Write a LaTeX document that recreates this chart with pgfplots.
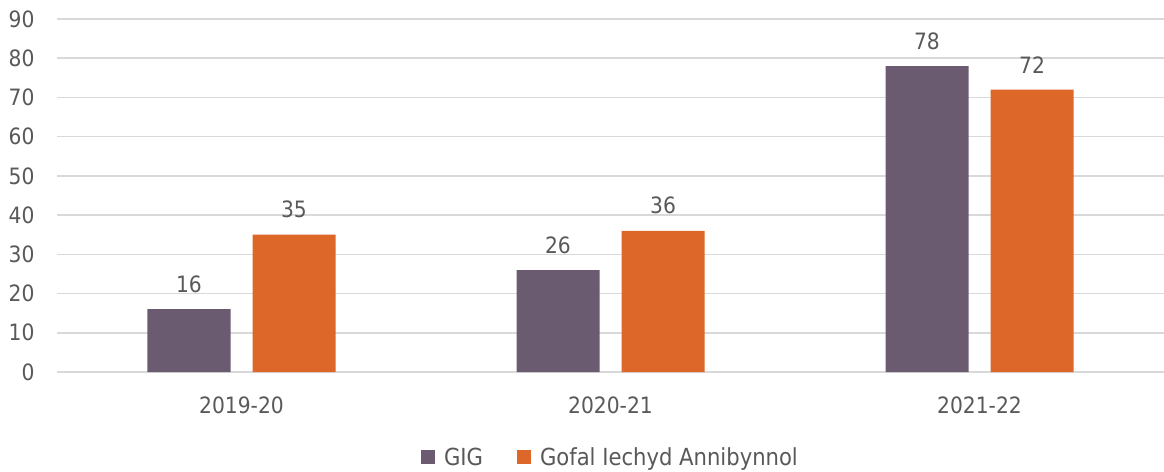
\documentclass[border=0pt]{standalone}
\usepackage{pgfplots}
\pgfplotsset{compat=1.18}
\usepackage{fontspec}
\setmainfont{DejaVu Sans Condensed}
\definecolor{gig}{HTML}{6B5B70}
\definecolor{gofal}{HTML}{DD6629}
\definecolor{txt}{HTML}{595959}
\definecolor{gridc}{HTML}{D9D9D9}
\begin{document}
\begin{tikzpicture}
\begin{axis}[
  name=ax,
  scale only axis,
  width=1107pt, height=353pt,
  xmin=-0.5, xmax=2.5, ymin=0, ymax=90,
  ytick={0,10,...,90},
  xtick={0,1,2},
  xticklabels={2019-20,2020-21,2021-22},
  axis line style={draw=none},
  major tick length=0pt,
  xmajorgrids=false,
  ymajorgrids, grid style={draw=gridc, line width=1.5pt},
  tick style={draw=none},
  tick label style={font=\fontsize{22.5}{26}\selectfont, text=txt},
  /pgf/number format/assume math mode=true,
  yticklabel style={xshift=-19pt},
  xticklabel style={yshift=-21pt},
  ybar, bar width=83pt,
  nodes near coords,
  every node near coord/.append style={font=\fontsize{22.5}{26}\selectfont, text=txt, yshift=13pt},
  legend style={at={(0.5,-0.241)}, anchor=center, draw=none, legend columns=2,
    font=\fontsize{23.5}{27}\selectfont, text=txt,
    /tikz/every even column/.append style={column sep=32pt}},
  legend image code/.code={\fill[#1] (0pt,-7pt) rectangle (14pt,7pt);},
  legend cell align=left,
]
\addplot[fill=gig, draw=none, bar shift=-52.5pt] coordinates {(0,16) (1,26) (2,78)};
\addplot[fill=gofal, draw=none, bar shift=52.5pt] coordinates {(0,35) (1,36) (2,72)};
\legend{\hspace{7pt}GIG, \hspace{7pt}Gofal Iechyd Annibynnol}
\end{axis}
\pgfresetboundingbox
\path ([shift={(-57pt,-99pt)}]ax.south west) rectangle ([shift={(0pt,19pt)}]ax.north east);
\end{tikzpicture}
\end{document}
